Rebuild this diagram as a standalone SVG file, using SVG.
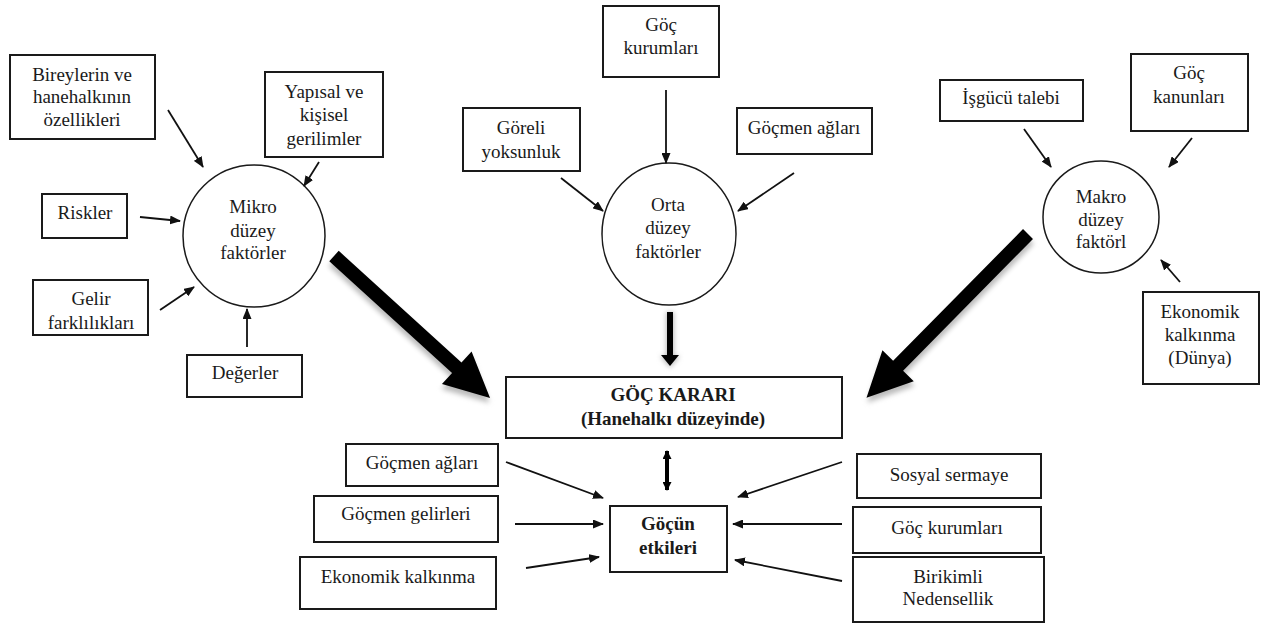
<svg xmlns="http://www.w3.org/2000/svg" width="1270" height="628" viewBox="0 0 1270 628">
<style>
.box{fill:#fff;stroke:#1a1a1a;stroke-width:2}
.circ{fill:#fff;stroke:#1a1a1a;stroke-width:1.5}
text{font-family:"Liberation Serif","Times New Roman",serif;font-size:19px;fill:#1a1a1a;text-anchor:middle}
.b{font-weight:bold}
.thin{stroke:#111;stroke-width:1.8;fill:none;marker-end:url(#ah)}
.fat{fill:#000}
.glow{fill:#bbb;filter:url(#blur)}
</style>
<defs>
<marker id="ah" markerUnits="userSpaceOnUse" markerWidth="11" markerHeight="9" refX="10" refY="4.5" orient="auto"><path d="M0,0 L11,4.5 L0,9 z" fill="#111"/></marker>
<marker id="ah2" markerUnits="userSpaceOnUse" markerWidth="10" markerHeight="9" refX="8" refY="4.5" orient="auto-start-reverse"><path d="M0,0 L9,4.5 L0,9 z" fill="#000"/></marker>
<filter id="blur" x="-20%" y="-20%" width="140%" height="140%"><feGaussianBlur stdDeviation="2.5"/></filter>
</defs>
<rect width="1270" height="628" fill="#fff"/>

<g id="n-bireylerin"><rect class="box" x="10" y="55" width="145" height="84"/><text x="82" y="81">Bireylerin ve</text><text x="82" y="103">hanehalkının</text><text x="82" y="126">özellikleri</text></g>
<g id="n-yapisal"><rect class="box" x="265" y="72" width="118" height="85"/><text x="324" y="98">Yapısal ve</text><text x="324" y="121">kişisel</text><text x="324" y="145">gerilimler</text></g>
<g id="n-riskler"><rect class="box" x="42" y="194" width="85" height="44"/><text x="85" y="219">Riskler</text></g>
<g id="n-gelir"><rect class="box" x="33" y="280" width="115" height="55"/><text x="91" y="305">Gelir</text><text x="91" y="329">farklılıkları</text></g>
<g id="n-degerler"><rect class="box" x="187" y="355" width="115" height="42"/><text x="245" y="379">Değerler</text></g>
<g id="n-mikro"><ellipse class="circ" cx="254" cy="236" rx="71" ry="71"/><text x="253" y="213">Mikro</text><text x="253" y="237">düzey</text><text x="253" y="259">faktörler</text></g>

<g id="n-gockurum-top"><rect class="box" x="603" y="6" width="116" height="71"/><text x="661" y="31">Göç</text><text x="661" y="54">kurumları</text></g>
<g id="n-goreli"><rect class="box" x="463" y="108" width="117" height="63"/><text x="521" y="134">Göreli</text><text x="521" y="158">yoksunluk</text></g>
<g id="n-gocmenag-top"><rect class="box" x="737" y="108" width="135" height="46"/><text x="804" y="134">Göçmen ağları</text></g>
<g id="n-orta"><ellipse class="circ" cx="669" cy="234" rx="67" ry="71"/><text x="668" y="211">Orta</text><text x="668" y="234">düzey</text><text x="668" y="258">faktörler</text></g>

<g id="n-isgucu"><rect class="box" x="940" y="80" width="143" height="41"/><text x="1011" y="104">İşgücü talebi</text></g>
<g id="n-kanun"><rect class="box" x="1131" y="54" width="117" height="77"/><text x="1189" y="79">Göç</text><text x="1189" y="103">kanunları</text></g>
<g id="n-makro"><ellipse class="circ" cx="1101" cy="217" rx="58" ry="56"/><text x="1101" y="203">Makro</text><text x="1101" y="226">düzey</text><text x="1101" y="248">faktörl</text></g>
<g id="n-ekodunya"><rect class="box" x="1143" y="292" width="116" height="92"/><text x="1200" y="318">Ekonomik</text><text x="1200" y="341">kalkınma</text><text x="1200" y="364">(Dünya)</text></g>

<g id="n-karar"><rect class="box" x="506" y="377" width="336" height="61"/><text class="b" x="673" y="401">GÖÇ KARARI</text><text class="b" x="673" y="425">(Hanehalkı düzeyinde)</text></g>
<g id="n-etkiler"><rect class="box" x="610" y="506" width="117" height="66"/><text class="b" x="668" y="530">Göçün</text><text class="b" x="668" y="554">etkileri</text></g>

<g id="n-gocmenag-bot"><rect class="box" x="346" y="444" width="152" height="42"/><text x="422" y="469">Göçmen ağları</text></g>
<g id="n-gelirleri"><rect class="box" x="314" y="496" width="184" height="46"/><text x="406" y="520">Göçmen gelirleri</text></g>
<g id="n-ekonomik"><rect class="box" x="300" y="557" width="196" height="52"/><text x="398" y="583">Ekonomik kalkınma</text></g>

<g id="n-sosyal"><rect class="box" x="857" y="454" width="184" height="44"/><text x="949" y="481">Sosyal sermaye</text></g>
<g id="n-gockurum-bot"><rect class="box" x="853" y="507" width="188" height="46"/><text x="947" y="534">Göç kurumları</text></g>
<g id="n-birikimli"><rect class="box" x="853" y="557" width="191" height="65"/><text x="948" y="583">Birikimli</text><text x="948" y="605">Nedensellik</text></g>

<g id="connectors">
<line class="thin" x1="168" y1="110" x2="203" y2="167"/>
<line class="thin" x1="319" y1="162" x2="304" y2="186"/>
<line class="thin" x1="140" y1="217" x2="180" y2="221"/>
<line class="thin" x1="160" y1="310" x2="194" y2="287"/>
<line class="thin" x1="247" y1="347" x2="247" y2="309"/>
<line class="thin" x1="666" y1="90" x2="666" y2="163"/>
<line class="thin" x1="561" y1="178" x2="603" y2="211"/>
<line class="thin" x1="794" y1="173" x2="738" y2="211"/>
<line class="thin" x1="1024" y1="129" x2="1051" y2="167"/>
<line class="thin" x1="1192" y1="138" x2="1169" y2="167"/>
<line class="thin" x1="1180" y1="282" x2="1161" y2="260"/>
<line class="thin" x1="506" y1="462" x2="603" y2="498"/>
<line class="thin" x1="515" y1="524" x2="603" y2="524"/>
<line class="thin" x1="526" y1="568" x2="599" y2="557"/>
<line class="thin" x1="842" y1="462" x2="738" y2="497"/>
<line class="thin" x1="842" y1="524" x2="733" y2="524"/>
<line class="thin" x1="842" y1="581" x2="735" y2="560"/>
<g transform="translate(334,256) rotate(42.3)">
<polygon class="glow" transform="translate(3,4)" points="0,-7 166,-7 166,-22 211,0 166,22 166,7 0,7"/>
<polygon class="fat" points="0,-7 166,-7 166,-22 211,0 166,22 166,7 0,7"/>
</g>
<g transform="translate(1028,234) rotate(134.6)">
<polygon class="glow" transform="translate(3,-4)" points="0,-7 185,-7 185,-22 230,0 185,22 185,7 0,7"/>
<polygon class="fat" points="0,-7 185,-7 185,-22 230,0 185,22 185,7 0,7"/>
</g>
<polygon class="glow" points="666,312 674,312 674,356 680,356 670,368 660,356 666,356"/>
<polygon class="fat" points="667,312 673,312 673,355 679,355 670,366 661,355 667,355"/>
<line x1="667" y1="451" x2="667" y2="490" stroke="#000" stroke-width="4" marker-start="url(#ah2)" marker-end="url(#ah2)"/>
</g>
</svg>
